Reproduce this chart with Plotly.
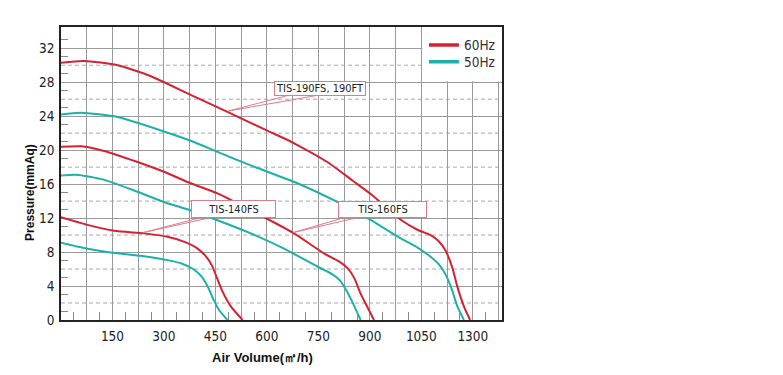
import plotly.graph_objects as go

# ---------------- data ----------------
RED = "#d42232"
CYAN = "#1cb0ab"

# TIS-190FS / 190FT
v190_60 = [0, 67, 165, 262, 378, 485, 601, 650, 689, 776, 850, 907, 990, 1040, 1077, 1100, 1120, 1140, 1155, 1174, 1192]
p190_60 = [30.3, 30.5, 30.0, 28.7, 26.5, 24.5, 22.3, 21.4, 20.6, 18.6, 16.4, 14.7, 11.8, 10.6, 10.0, 9.3, 8.2, 6.2, 3.9, 1.6, 0]
v190_50 = [0, 58, 165, 300, 378, 456, 553, 689, 805, 902, 990, 1040, 1077, 1100, 1120, 1138, 1155, 1174]
p190_50 = [24.2, 24.4, 23.9, 22.2, 21.1, 19.8, 18.2, 16.1, 13.9, 11.8, 9.6, 8.5, 7.45, 6.6, 5.4, 3.7, 1.6, 0]

# TIS-160FS
v160_60 = [0, 58, 126, 223, 300, 378, 456, 592, 679, 766, 810, 835, 855, 873, 893, 912]
p160_60 = [20.4, 20.45, 19.9, 18.6, 17.45, 16.1, 14.9, 12.1, 10.2, 7.85, 6.9, 6.1, 4.9, 3.1, 1.5, 0]
v160_50 = [0, 44, 126, 223, 300, 378, 456, 553, 650, 747, 790, 812, 830, 848, 873]
p160_50 = [17.0, 17.1, 16.5, 15.1, 13.9, 12.9, 11.75, 10.2, 8.4, 6.3, 5.4, 4.7, 3.6, 2.2, 0]

# TIS-140FS
v140_60 = [0, 77, 155, 242, 310, 360, 395, 420, 440, 455, 470, 495, 529]
p140_60 = [12.1, 11.2, 10.5, 10.2, 9.8, 9.2, 8.5, 7.6, 6.4, 4.9, 3.4, 1.6, 0]
v140_50 = [0, 77, 165, 242, 310, 355, 385, 410, 428, 442, 460, 485]
p140_50 = [9.1, 8.4, 7.85, 7.5, 7.05, 6.6, 6.0, 5.1, 3.9, 2.6, 1.2, 0]

# axis ticks
x_grid_vals = [75 * i for i in range(18)]          # vertical grid every 75
x_label_map = {150: "150", 300: "300", 450: "450", 600: "600", 750: "750",
               900: "900", 1050: "1050", 1200: "1300"}
y_tick_vals = [0, 4, 8, 12, 16, 20, 24, 28, 32]
y_tick_text = ["0", "4", "8", "12", "16", "20", "24", "28", "32"]
y_dash_vals = [2, 6, 10, 14, 18, 22, 26, 30]

labels = ["TIS-190FS, 190FT", "TIS-140FS", "TIS-160FS"]
x_title = "Air Volume(㎥/h)"
y_title = "Pressure(mmAq)"

X_MAX = 1285
Y_MAX = 34.5

NARROW = "Liberation Sans Narrow, DejaVu Sans Condensed, Arial Narrow, Liberation Sans, sans-serif"
BOLD = "Liberation Sans, Arial, sans-serif"

fig = go.Figure()

series = [
    (v190_60, p190_60, RED), (v190_50, p190_50, CYAN),
    (v160_60, p160_60, RED), (v160_50, p160_50, CYAN),
    (v140_60, p140_60, RED), (v140_50, p140_50, CYAN),
]
for vx, py, col in series:
    fig.add_trace(go.Scatter(x=vx, y=py, mode="lines",
                             line=dict(color=col, width=2, shape="spline", smoothing=0.6),
                             showlegend=False, hoverinfo="skip"))

# legend entries (one legend box each, so their spacing can match)
fig.add_trace(go.Scatter(x=[None], y=[None], mode="lines", name="60Hz",
                         line=dict(color=RED, width=3.5), legend="legend"))
fig.add_trace(go.Scatter(x=[None], y=[None], mode="lines", name="50Hz",
                         line=dict(color=CYAN, width=3.5), legend="legend2"))

shapes = []
# dashed horizontal grid lines
for yv in y_dash_vals:
    shapes.append(dict(type="line", xref="x", yref="y", x0=0, x1=X_MAX, y0=yv, y1=yv,
                       line=dict(color="#a8a8a8", width=1, dash="4px,3px"), layer="below"))
# white box behind legend
shapes.append(dict(type="rect", xref="x", yref="y", x0=1053, x1=X_MAX, y0=28.12, y1=Y_MAX,
                   fillcolor="white", line=dict(width=0), layer="between"))

# leader wedges for the labels
PINK = "#e07c8a"
leaders = [
    ((658, 26.4), (487, 24.6), (740, 26.4)),
    ((410, 12.08), (240, 10.3), (439, 12.08)),
    ((828, 12.08), (677, 10.3), (866, 12.08)),
]
for a, b, c in leaders:
    shapes.append(dict(type="path", xref="x", yref="y",
                       path=f"M {a[0]},{a[1]} L {b[0]},{b[1]} L {c[0]},{c[1]}",
                       line=dict(color=PINK, width=1)))

annotations = []
boxes = [
    (labels[0], 755, 27.25, 90, 13),
    (labels[1], 504, 13.12, 83, 16),
    (labels[2], 936, 13.07, 87, 15),
]
for txt, bx, by, w, h in boxes:
    annotations.append(dict(x=bx, y=by, xref="x", yref="y", text=txt, showarrow=False,
                            font=dict(family=NARROW, size=11, color="#222"),
                            bgcolor="white", bordercolor=PINK, borderwidth=1, borderpad=0,
                            width=w, height=h, align="center", valign="middle"))

# axis titles (placed off-centre as in the reference)
annotations.append(dict(text=f"<b>{x_title}</b>", xref="paper", yref="paper",
                        x=0.456, y=-0.128, xanchor="center", yanchor="middle", showarrow=False,
                        font=dict(family=BOLD, size=13, color="#111")))
annotations.append(dict(text=f"<b>{y_title}</b>", xref="paper", yref="paper", textangle=-90,
                        x=-0.0703, y=0.437, xanchor="center", yanchor="middle", showarrow=False,
                        font=dict(family=BOLD, size=12, color="#111")))

leg_common = dict(xanchor="left", yanchor="middle", bgcolor="rgba(0,0,0,0)", borderwidth=0,
                  font=dict(family=NARROW, size=13.5, color="#333"), itemwidth=30)

# the page body adds an 8px offset, so the figure is 8px smaller and margins shifted
fig.update_layout(
    width=775, height=367,
    margin=dict(l=53, r=281, t=19, b=55, autoexpand=False),
    paper_bgcolor="white", plot_bgcolor="white",
    shapes=shapes, annotations=annotations,
    legend=dict(x=0.823, y=0.938, **leg_common),
    legend2=dict(x=0.823, y=0.881, **leg_common),
    xaxis=dict(range=[0, X_MAX], tickmode="array", tickvals=x_grid_vals,
               ticktext=[x_label_map.get(v, "") for v in x_grid_vals],
               showgrid=True, gridcolor="#9a9a9a", gridwidth=1, zeroline=False,
               showline=True, linecolor="#222", linewidth=1.5, mirror=True,
               ticks="", ticklabelstandoff=3, automargin=False,
               tickfont=dict(family=NARROW, size=13.5, color="#222"),
               minor=dict(tickmode="array", tickvals=[37.5 + 75 * i for i in range(17)],
                          ticks="inside", ticklen=8, tickcolor="#8a8a8a", tickwidth=1,
                          showgrid=False)),
    yaxis=dict(range=[0, Y_MAX], tickmode="array", tickvals=y_tick_vals, ticktext=y_tick_text,
               showgrid=True, gridcolor="#9a9a9a", gridwidth=1, zeroline=False,
               showline=True, linecolor="#222", linewidth=1.5, mirror=True,
               ticks="", ticklabelstandoff=2, automargin=False,
               tickfont=dict(family=NARROW, size=13.5, color="#222"),
               minor=dict(tickmode="array", tickvals=[2 * i + 1 for i in range(17)],
                          ticks="inside", ticklen=7, tickcolor="#8a8a8a", tickwidth=1,
                          showgrid=False)),
)

fig.write_html("out.html")
